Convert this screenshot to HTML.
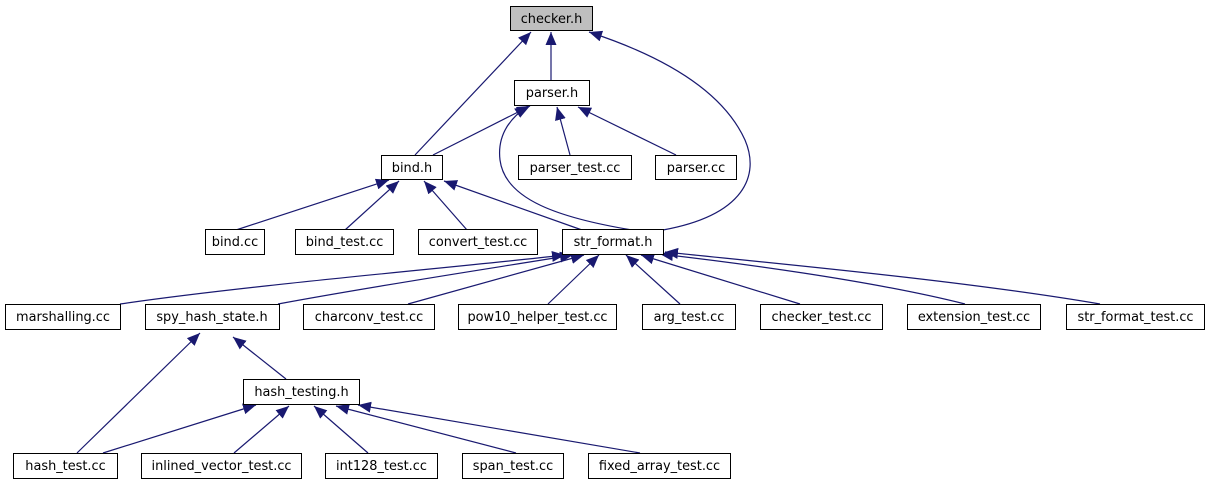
<!DOCTYPE html>
<html><head><meta charset="utf-8"><style>
html,body{margin:0;padding:0;background:#fff;}
svg{display:block;}
text{font-family:"DejaVu Sans","Liberation Sans",sans-serif;font-size:12.9px;fill:#000;}
</style></head><body>
<svg width="1211" height="485" viewBox="0 0 1211 485" xmlns="http://www.w3.org/2000/svg">
<defs>
<marker id="a" markerUnits="userSpaceOnUse" markerWidth="14" markerHeight="12" refX="13" refY="5.5" orient="auto">
<polygon points="0,0 13,5.5 0,11" fill="#191970"/>
</marker>
</defs>
<g fill="none" stroke="#191970" stroke-width="1.2" marker-end="url(#a)">
<path d="M415,155 L531,32"/>
<path d="M551,80 L551,32"/>
<path d="M663,230 C745,215 760,175 745,140 C720,85 650,52 589,32"/>
<path d="M433,155 L530,106"/>
<path d="M632,230 C560,218 505,200 500,160 C497,135 510,118 528,106"/>
<path d="M570,155 L557,107"/>
<path d="M676,155 L578,107"/>
<path d="M236,230 L389,180"/>
<path d="M345,230 L399,181"/>
<path d="M467,230 L424,181"/>
<path d="M582,230 L444,181"/>
<path d="M120,304 C250,285 450,268 565,255"/>
<path d="M278,304 C380,285 500,267 573,255"/>
<path d="M408,304 L584,255"/>
<path d="M548,304 L599,255"/>
<path d="M680,304 L626,255"/>
<path d="M800,304 L641,255"/>
<path d="M965,304 C870,280 730,262 660,254"/>
<path d="M1100,304 C960,280 760,262 665,252"/>
<path d="M77,453 L200,333"/>
<path d="M286,379 L233,337"/>
<path d="M103,453 L256,405"/>
<path d="M234,453 L289,406"/>
<path d="M368,453 L314,406"/>
<path d="M516,453 L336,406"/>
<path d="M640,453 L358,405"/>
</g>
<g stroke="#000" stroke-width="1" fill="#fff">
<rect x="510.5" y="6.5" width="82" height="24" fill="#bfbfbf"/>
<rect x="514.5" y="80.5" width="75" height="25"/>
<rect x="381.5" y="155.5" width="61" height="24"/>
<rect x="518.5" y="155.5" width="113" height="24"/>
<rect x="655.5" y="155.5" width="81" height="24"/>
<rect x="205.5" y="229.5" width="59" height="25"/>
<rect x="295.5" y="229.5" width="98" height="25"/>
<rect x="418.5" y="229.5" width="119" height="25"/>
<rect x="562.5" y="229.5" width="101" height="25"/>
<rect x="5.5" y="304.5" width="115" height="25"/>
<rect x="145.5" y="304.5" width="134" height="25"/>
<rect x="303.5" y="304.5" width="131" height="25"/>
<rect x="458.5" y="304.5" width="158" height="25"/>
<rect x="642.5" y="304.5" width="93" height="25"/>
<rect x="760.5" y="304.5" width="122" height="25"/>
<rect x="907.5" y="304.5" width="133" height="25"/>
<rect x="1066.5" y="304.5" width="138" height="25"/>
<rect x="243.5" y="379.5" width="116" height="25"/>
<rect x="13.5" y="453.5" width="104" height="25"/>
<rect x="141.5" y="453.5" width="160" height="25"/>
<rect x="325.5" y="453.5" width="112" height="25"/>
<rect x="462.5" y="453.5" width="101" height="25"/>
<rect x="588.5" y="453.5" width="142" height="25"/>
</g>
<g text-anchor="middle">
<text x="551.5" y="23">checker.h</text>
<text x="552" y="97">parser.h</text>
<text x="412" y="172">bind.h</text>
<text x="575" y="172">parser_test.cc</text>
<text x="696" y="172">parser.cc</text>
<text x="235" y="246">bind.cc</text>
<text x="344.5" y="246">bind_test.cc</text>
<text x="478" y="246">convert_test.cc</text>
<text x="613" y="246">str_format.h</text>
<text x="63" y="321">marshalling.cc</text>
<text x="212" y="321">spy_hash_state.h</text>
<text x="369" y="321">charconv_test.cc</text>
<text x="537.5" y="321">pow10_helper_test.cc</text>
<text x="689" y="321">arg_test.cc</text>
<text x="821.5" y="321">checker_test.cc</text>
<text x="974" y="321">extension_test.cc</text>
<text x="1135.5" y="321">str_format_test.cc</text>
<text x="301.5" y="396">hash_testing.h</text>
<text x="65.5" y="470">hash_test.cc</text>
<text x="221.5" y="470">inlined_vector_test.cc</text>
<text x="381.5" y="470">int128_test.cc</text>
<text x="513" y="470">span_test.cc</text>
<text x="659.5" y="470">fixed_array_test.cc</text>
</g>
</svg>
</body></html>
